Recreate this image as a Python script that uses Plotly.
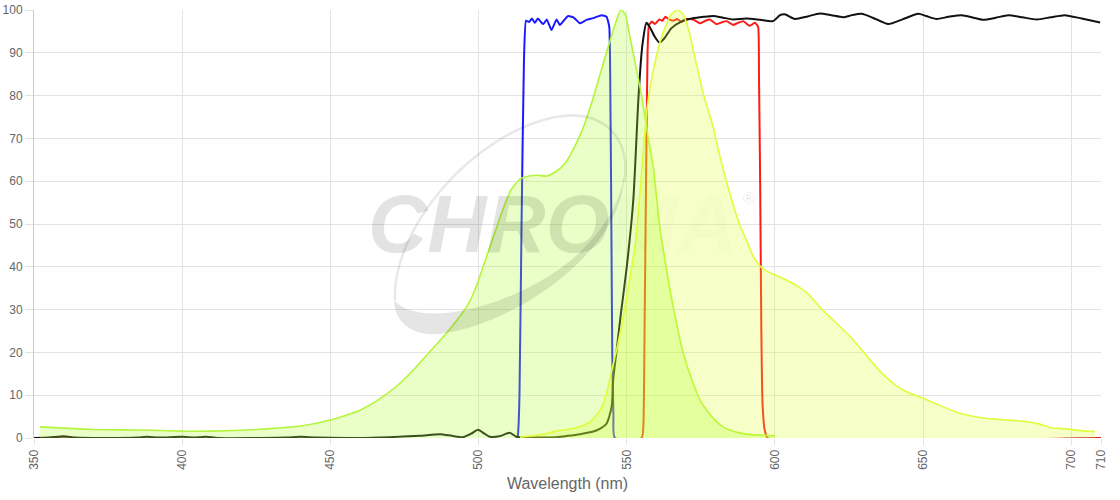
import plotly.graph_objects as go

# ---------------- data ----------------
ex_wl = [352, 360, 370, 380, 390, 400, 410, 420, 430, 440, 450, 460, 467, 473, 478, 484, 490, 496, 499,
         502, 505, 508, 511, 514, 517, 520, 523, 526, 529, 532, 535, 538, 541, 544, 546, 548, 549.5, 551,
         553, 555, 557, 559, 561, 563, 565, 567, 569, 572, 575, 577, 580, 582.5, 585, 588, 592, 600]
ex_val = [2.6, 2.3, 2.0, 1.9, 1.8, 1.6, 1.6, 1.8, 2.2, 2.8, 4.2, 6.5, 9.3, 12.5, 15.9, 20.5, 25.2, 30.7, 35,
          41, 47, 53, 58, 60.5, 61.2, 61.4, 61.2, 62.2, 64, 67.5, 72, 78, 85, 92, 96.5, 100, 99, 94,
          87, 80, 71, 63, 50, 41, 33, 26, 20, 13.5, 8.5, 6.5, 4.0, 2.6, 1.8, 1.2, 0.8, 0.5]

em_wl = [514, 518, 522, 526, 530, 534, 538, 541, 543, 545, 547, 549, 551, 553, 555, 557, 559, 561, 563, 565,
         567, 569, 571, 573.6, 576, 579, 581, 584, 588, 590.5, 593, 596, 599.4, 602, 605, 608, 611, 614,
         617.4, 622, 626.4, 630, 633, 637, 641, 644.4, 650, 655, 661, 666, 671, 678, 685, 689, 693, 697,
         701, 705, 708]
em_val = [0.2, 0.5, 0.9, 1.6, 2.0, 2.6, 4.0, 6.5, 10, 16, 22, 29, 37, 46, 62, 78, 86, 92, 96, 99,
          100, 99, 95, 87, 80, 73, 67, 59, 50, 46, 42, 39.5, 38.3, 37.5, 36.5, 35.3, 33.8, 31.5,
          29, 26, 22.9, 20, 17.5, 14.5, 12.2, 10.8, 9.3, 7.8, 6.1, 5.2, 4.6, 4.2, 3.8, 3.3, 2.4, 2.2,
          1.9, 1.6, 1.5]

bl_wl = [350, 513.0, 513.4, 513.8, 514.5, 515.3, 516.0, 517, 518, 519, 520, 521.8, 523, 524.6, 526.3,
         527.4, 528.5, 530.2, 532, 534.2, 536.4, 538.7, 541.5, 543.2, 544.1, 544.4, 544.7, 545.1, 545.5,
         546.0, 710]
bl_val = [0, 0, 2, 10, 50, 88, 97.5, 97.2, 98, 97, 98, 96.7, 97.8, 95.3, 97.8,
          96.5, 97.3, 98.6, 98.3, 96.9, 97.7, 98.1, 98.8, 98.4, 96, 85, 60, 20, 5,
          0, 0]

rd_wl = [350, 555.0, 555.6, 556.0, 556.5, 557.0, 557.5, 558.5, 559.5, 561, 562, 563, 564.3, 565.7, 567,
         568.5, 570, 572.4, 574.7, 576.5, 578, 580.3, 582, 583.7, 585.9, 587.5, 589.3, 591.5, 593.2,
         594.3, 594.6, 595.0, 595.4, 595.8, 596.5, 597.5, 710]
rd_val = [0, 0, 3, 25, 60, 90, 96.5, 97.3, 96.7, 97.8, 97.5, 98.4, 97.8, 97.5, 97.9,
          97.2, 97.9, 97.8, 96.9, 97.5, 97.8, 96.7, 97.1, 97.4, 96.5, 97, 97.4, 96.3, 97,
          96.1, 85, 60, 25, 8, 2, 0, 0]

dc_wl = [350, 355, 360, 364, 370, 385, 388, 392, 400, 404, 408, 412, 435, 440, 445, 460, 470, 480, 487,
         491, 494.8, 497.5, 499.8, 502, 503.8, 507, 510.5, 512.8, 516, 520, 526.3, 530, 534.2, 538.7,
         541, 543.2, 544.9, 545.4, 546.6, 548, 550, 552.2, 553.9, 555, 555.5, 556.6, 557.7, 559.4, 561,
         562.7, 565, 568.4, 572, 576, 579.2, 582.5, 585.9, 590.4, 595, 599.4, 601.7, 603.3, 606.7, 611,
         615.1, 619, 623, 626, 629.2, 633, 638.2, 643, 648.3, 651, 654.5, 658.5, 663, 667, 670.3, 674.5,
         678.7, 683.5, 688.3, 693, 697.8, 703.5, 709.7]
dc_val = [0, 0.1, 0.4, 0.1, 0, 0.1, 0.3, 0.1, 0.3, 0.1, 0.3, 0, 0.1, 0.3, 0.1, 0, 0.2, 0.5, 0.9,
          0.5, 0.2, 1.0, 1.9, 1.0, 0.3, 0.4, 1.2, 0.3, 0.1, 0.1, 0.2, 0.5, 0.9, 1.5,
          2.2, 3.4, 7.3, 13.5, 20.6, 29, 40, 55.6, 79, 90, 93, 97, 96.1, 93.8, 92.4,
          93.4, 95.7, 97.3, 98, 98.4, 98.6, 98.2, 97.8, 98, 97.7, 97.4, 98.8, 99, 97.9, 98.5,
          99.2, 98.8, 98.3, 98.8, 99.1, 98.2, 96.7, 97.8, 99.1, 98.6, 97.9, 98.4, 98.8, 98.2, 97.7, 98.2,
          98.8, 98.3, 97.8, 98.3, 98.8, 98, 97.1]

x_ticks = [350, 400, 450, 500, 550, 600, 650, 700, 710]
y_ticks = [0, 10, 20, 30, 40, 50, 60, 70, 80, 90, 100]
x_title = "Wavelength (nm)"

# ---------------- figure ----------------
fig = go.Figure()

fig.add_trace(go.Scatter(x=bl_wl, y=bl_val, mode="lines",
                         line=dict(color="#1a1aff", width=2, shape="spline", smoothing=0.4),
                         hoverinfo="skip"))
fig.add_trace(go.Scatter(x=rd_wl, y=rd_val, mode="lines",
                         line=dict(color="#ff1a1a", width=2, shape="spline", smoothing=0.4),
                         hoverinfo="skip"))
fig.add_trace(go.Scatter(x=dc_wl, y=dc_val, mode="lines",
                         line=dict(color="#111111", width=2, shape="spline", smoothing=0.6),
                         hoverinfo="skip"))
fig.add_trace(go.Scatter(x=ex_wl, y=ex_val, mode="lines", fill="tozeroy",
                         fillcolor="rgba(173,255,47,0.27)",
                         line=dict(color="rgb(180,245,60)", width=1.6, shape="spline", smoothing=0.6),
                         hoverinfo="skip"))
fig.add_trace(go.Scatter(x=em_wl, y=em_val, mode="lines", fill="tozeroy",
                         fillcolor="rgba(214,255,30,0.25)",
                         line=dict(color="rgb(226,252,60)", width=1.6, shape="spline", smoothing=0.6),
                         hoverinfo="skip"))

# ---------------- layout ----------------
FIG_W, FIG_H = 1120, 500
L, R, T, B = 34, 1101, 10, 438


def px(xp, yp):
    # page pixel -> paper coordinates
    return (xp - L) / (R - L), (B - yp) / (B - T)


def path(points):
    out = []
    for cmd, pts in points:
        coords = " ".join("%.4f,%.4f" % px(*p) for p in pts)
        out.append((cmd + " " + coords).strip())
    return " ".join(out)


arc_thin = path([("M", [(395, 300)]),
                 ("C", [(392, 230), (470, 135), (555, 117)]),
                 ("C", [(605, 108), (632, 140), (624, 182)])])
band = path([("M", [(624, 178)]),
             ("C", [(622, 245), (525, 322), (440, 334)]),
             ("C", [(410, 337), (394, 320), (394, 300)]),
             ("C", [(410, 318), (450, 318), (500, 300)]),
             ("C", [(565, 276), (612, 232), (624, 178)]),
             ("Z", [])])

fig.update_layout(shapes=[
    dict(type="path", xref="paper", yref="paper", path=arc_thin,
         line=dict(color="rgba(0,0,0,0.09)", width=2.5), layer="above"),
    dict(type="path", xref="paper", yref="paper", path=band,
         fillcolor="rgba(0,0,0,0.10)", line=dict(width=0), layer="above"),
])

cx, cy = px(552, 223)
rx, ry = px(757, 199)
fig.add_annotation(xref="paper", yref="paper", x=cx, y=cy, showarrow=False,
                   text="<b><i>CHRO<span style='color:rgba(0,0,0,0.09)'>MA</span></i></b>",
                   font=dict(family="Liberation Sans", size=82, color="rgba(0,0,0,0.11)"))
fig.add_annotation(xref="paper", yref="paper", x=rx, y=ry, showarrow=False,
                   text="®", font=dict(family="Liberation Sans", size=16, color="rgba(0,0,0,0.10)"))

fig.update_layout(
    width=FIG_W, height=FIG_H,
    margin=dict(l=L, r=FIG_W - R, t=T, b=FIG_H - B),
    paper_bgcolor="white", plot_bgcolor="white",
    showlegend=False,
    font=dict(family="Liberation Sans", color="#666666", size=12),
    xaxis=dict(range=[350, 710], tickmode="array", tickvals=x_ticks,
               ticktext=[str(v) for v in x_ticks], tickangle=-90,
               showgrid=True, gridcolor="#e3e3e3", gridwidth=1,
               ticks="outside", ticklen=6, tickcolor="#e3e3e3",
               zeroline=False, showline=False, automargin=False,
               title=dict(text=x_title, font=dict(size=16, color="#666666"), standoff=8),
               tickfont=dict(size=12, color="#666666")),
    yaxis=dict(range=[0, 100], tickmode="array", tickvals=y_ticks,
               showgrid=True, gridcolor="#e3e3e3", gridwidth=1,
               ticks="outside", ticklen=8, tickcolor="#e3e3e3",
               zeroline=False, showline=True, linecolor="#cccccc", linewidth=1,
               automargin=False, ticklabeloverflow="allow",
               tickfont=dict(size=12, color="#666666")),
)

fig.write_html("out.html", config={"displayModeBar": False},
               post_script="document.body.style.margin='0';document.body.style.overflow='hidden';")
